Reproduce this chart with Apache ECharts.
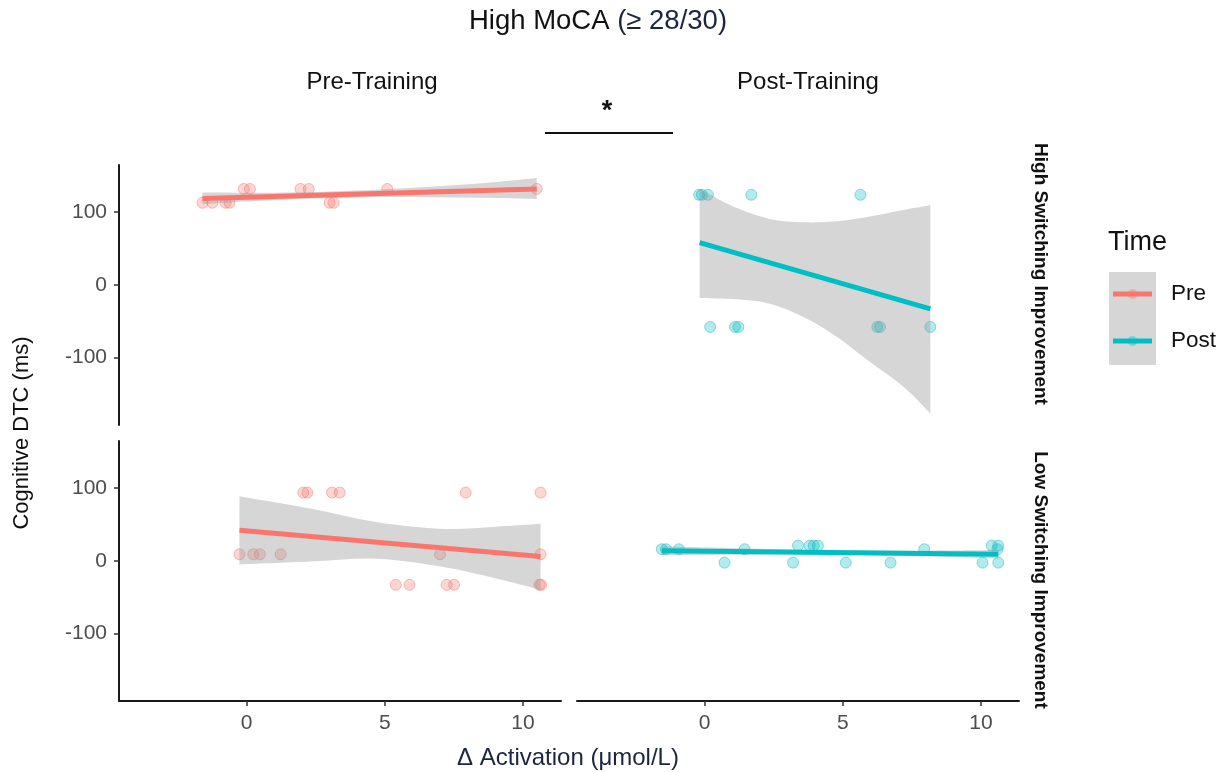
<!DOCTYPE html>
<html>
<head>
<meta charset="utf-8">
<script src="https://cdn.jsdelivr.net/npm/echarts@6/dist/echarts.min.js"></script>
<style>
  html, body { margin: 0; padding: 0; background: #ffffff; }
  #chart { width: 1230px; height: 772px; }
</style>
</head>
<body>
<div id="chart"></div>
<script>
// ---- labels and ticks ----
const facetCols = ['Pre-Training', 'Post-Training'];
const facetRows = ['High Switching Improvement', 'Low Switching Improvement'];
const timeLevels = ['Pre', 'Post'];
const xTicks = [0, 5, 10];
const yTicks = [-100, 0, 100];
const xRange = [-4.62, 11.38];
const yRange = [-193, 165];

// ---- Pre-Training, High Switching Improvement ----
const preHighX = [-1.6, -1.24, -0.76, -0.62, -0.1, 0.12, 1.95, 2.25, 3.0, 3.15, 5.09, 10.5];
const preHighY = [113, 113, 113, 113, 132, 132, 132, 132, 113, 113, 132, 132];
const preHighFitX = [-1.6, 10.5];
const preHighFitY = [119, 132];
const preHighBandX = [-1.6, 0.5, 2.5, 4.5, 6.5, 8.5, 10.5];
const preHighBandLo = [111, 115.8, 118.9, 120.6, 120.7, 119.8, 118];
const preHighBandHi = [127, 126.8, 127.9, 130.6, 134.7, 139.8, 147];

// ---- Post-Training, High Switching Improvement ----
const postHighX = [-0.2, -0.1, 0.12, 1.69, 5.64, 0.2, 1.1, 1.22, 6.25, 6.35, 8.17];
const postHighY = [124, 124, 124, 124, 124, -58, -58, -58, -58, -58, -58];
const postHighFitX = [-0.18, 8.17];
const postHighFitY = [58, -33];
const postHighBandX = [-0.18, 1.15, 2.36, 3.56, 4.77, 5.98, 7.19, 8.17];
const postHighBandLo = [-18, -20, -26, -44, -71, -106, -140, -177];
const postHighBandHi = [132, 106, 90.6, 86, 87.4, 94, 103, 110];

// ---- Pre-Training, Low Switching Improvement ----
const preLowX = [2.05, 2.2, 3.09, 3.37, 7.93, 10.64, -0.26, 0.24, 0.48, 1.23, 7.0, 10.64, 5.4, 5.9, 7.24, 7.51, 10.6, 10.66];
const preLowY = [94, 94, 94, 94, 94, 94, 9, 9, 9, 9, 9, 9, -33, -33, -33, -33, -33, -33];
const preLowFitX = [-0.26, 10.64];
const preLowFitY = [42, 6];
const preLowBandX = [-0.26, 2.31, 4.72, 7.12, 9.0, 10.64];
const preLowBandLo = [-5, -1, 3, -8.5, -24, -40];
const preLowBandHi = [89, 72, 53, 44, 47, 51];

// ---- Post-Training, Low Switching Improvement ----
const postLowX = [-1.55, -1.4, -0.93, 1.45, 7.95, 10.6, 3.38, 3.8, 3.95, 4.1, 10.39, 10.63, 0.72, 3.2, 5.11, 6.73, 10.06, 10.63];
const postLowY = [16, 16, 16, 16, 16, 16, 21, 21, 21, 21, 21, 21, -2.5, -2.5, -2.5, -2.5, -2.5, -2.5];
const postLowFitX = [-1.55, 10.63];
const postLowFitY = [14, 9];
const postLowBandX = [-1.55, 1.5, 4.5, 7.5, 10.63];
const postLowBandLo = [8, 8.5, 8.5, 6.5, 3];
const postLowBandHi = [20, 17, 14.5, 14, 15];

// ---- styling ----
const FONT = '"Liberation Sans", Arial, Helvetica, sans-serif';
const timeColors = { Pre: '#F8766D', Post: '#00BFC4' };
const pointFill = { Pre: 'rgba(248,118,109,0.38)', Post: 'rgba(0,191,196,0.38)' };
const pointEdge = { Pre: 'rgba(240,100,95,0.5)', Post: 'rgba(0,170,180,0.5)' };
const bandFill = 'rgba(153,153,153,0.4)';

// panel layout: row-major, [row][col]
const grids = [
  { left: 119, top: 165, width: 442, height: 260 },
  { left: 577, top: 165, width: 442, height: 260 },
  { left: 119, top: 441, width: 442, height: 260 },
  { left: 577, top: 441, width: 442, height: 260 }
];

const panels = [
  { time: 'Pre',  xs: preHighX,  ys: preHighY,  fitX: preHighFitX,  fitY: preHighFitY,  bx: preHighBandX,  lo: preHighBandLo,  hi: preHighBandHi },
  { time: 'Post', xs: postHighX, ys: postHighY, fitX: postHighFitX, fitY: postHighFitY, bx: postHighBandX, lo: postHighBandLo, hi: postHighBandHi },
  { time: 'Pre',  xs: preLowX,   ys: preLowY,   fitX: preLowFitX,   fitY: preLowFitY,   bx: preLowBandX,   lo: preLowBandLo,   hi: preLowBandHi },
  { time: 'Post', xs: postLowX,  ys: postLowY,  fitX: postLowFitX,  fitY: postLowFitY,  bx: postLowBandX,  lo: postLowBandLo,  hi: postLowBandHi }
];

// smooth cubic segments through pixel points (Catmull-Rom)
function smoothSegments(pts) {
  let d = '';
  for (let i = 0; i < pts.length - 1; i++) {
    const p0 = pts[i - 1] || pts[i];
    const p1 = pts[i];
    const p2 = pts[i + 1];
    const p3 = pts[i + 2] || p2;
    const c1x = p1[0] + (p2[0] - p0[0]) / 6, c1y = p1[1] + (p2[1] - p0[1]) / 6;
    const c2x = p2[0] - (p3[0] - p1[0]) / 6, c2y = p2[1] - (p3[1] - p1[1]) / 6;
    d += ' C' + c1x + ' ' + c1y + ' ' + c2x + ' ' + c2y + ' ' + p2[0] + ' ' + p2[1];
  }
  return d;
}

function bandRenderer(bx, lo, hi) {
  return function (params, api) {
    const up = bx.map((x, k) => api.coord([x, hi[k]]));
    const dn = bx.map((x, k) => api.coord([x, lo[k]])).reverse();
    const d = 'M' + up[0][0] + ' ' + up[0][1] + smoothSegments(up) +
      ' L' + dn[0][0] + ' ' + dn[0][1] + smoothSegments(dn) + ' Z';
    return { type: 'path', shape: { pathData: d }, style: { fill: bandFill } };
  };
}

const xAxes = grids.map((g, i) => ({
  type: 'value', gridIndex: i, min: xRange[0], max: xRange[1],
  show: i >= 2,
  axisLine: { show: true, onZero: false, lineStyle: { color: '#1a1a1a', width: 2 } },
  axisTick: { show: true, length: 5, customValues: xTicks, lineStyle: { color: '#333333', width: 1.5 } },
  axisLabel: { customValues: xTicks, color: '#4d4d4d', fontSize: 21, fontFamily: FONT, margin: 12 },
  splitLine: { show: false }
}));

const yAxes = grids.map((g, i) => ({
  type: 'value', gridIndex: i, min: yRange[0], max: yRange[1],
  show: i % 2 === 0,
  axisLine: { show: true, onZero: false, lineStyle: { color: '#1a1a1a', width: 2 } },
  axisTick: { show: true, length: 5, customValues: yTicks, lineStyle: { color: '#333333', width: 1.5 } },
  axisLabel: { customValues: yTicks, color: '#4d4d4d', fontSize: 21, fontFamily: FONT, margin: 12 },
  splitLine: { show: false }
}));

const series = [];
panels.forEach((p, i) => {
  series.push({
    type: 'scatter', name: p.time, xAxisIndex: i, yAxisIndex: i, z: 1,
    symbolSize: 11,
    itemStyle: { color: pointFill[p.time], borderColor: pointEdge[p.time], borderWidth: 1 },
    data: p.xs.map((x, k) => [x, p.ys[k]])
  });
  series.push({
    type: 'custom', xAxisIndex: i, yAxisIndex: i, z: 2, silent: true,
    renderItem: bandRenderer(p.bx, p.lo, p.hi),
    data: [[p.bx[0], p.lo[0]]]
  });
  series.push({
    type: 'line', name: p.time, xAxisIndex: i, yAxisIndex: i, z: 3,
    symbol: 'none', silent: true,
    lineStyle: { color: timeColors[p.time], width: 5 },
    data: p.fitX.map((x, k) => [x, p.fitY[k]])
  });
});

// text, facet strips, annotation and legend
const graphic = [
  {
    type: 'text', x: 598, y: 21,
    style: {
      text: '{a|High MoCA }{b|(≥ 28/30)}', align: 'center', verticalAlign: 'middle',
      rich: {
        a: { fontSize: 27.5, fontFamily: FONT, fill: '#111111' },
        b: { fontSize: 27.5, fontFamily: FONT, fill: '#1b2540' }
      }
    }
  },
  { type: 'text', x: 372, y: 82, style: { text: facetCols[0], fontSize: 24, fontFamily: FONT, fill: '#111111', align: 'center', verticalAlign: 'middle' } },
  { type: 'text', x: 808, y: 82, style: { text: facetCols[1], fontSize: 24, fontFamily: FONT, fill: '#111111', align: 'center', verticalAlign: 'middle' } },
  { type: 'text', x: 1040, y: 274, rotation: -Math.PI / 2, style: { text: facetRows[0], fontSize: 19, fontWeight: 'bold', fontFamily: FONT, fill: '#111111', align: 'center', verticalAlign: 'middle' } },
  { type: 'text', x: 1040, y: 580, rotation: -Math.PI / 2, style: { text: facetRows[1], fontSize: 19, fontWeight: 'bold', fontFamily: FONT, fill: '#111111', align: 'center', verticalAlign: 'middle' } },
  { type: 'text', x: 607, y: 112, style: { text: '*', fontSize: 27, fontWeight: 'bold', fontFamily: FONT, fill: '#111111', align: 'center', verticalAlign: 'middle' } },
  { type: 'line', shape: { x1: 545, y1: 133, x2: 673, y2: 133 }, style: { stroke: '#111111', lineWidth: 2 } },
  { type: 'text', x: 22, y: 433, rotation: Math.PI / 2, style: { text: 'Cognitive DTC (ms)', fontSize: 22, fontFamily: FONT, fill: '#111111', align: 'center', verticalAlign: 'middle' } },
  { type: 'text', x: 568, y: 758, style: { text: 'Δ Activation (μmol/L)', fontSize: 24, fontFamily: FONT, fill: '#1b2540', align: 'center', verticalAlign: 'middle' } },
  { type: 'text', x: 1108, y: 243, style: { text: 'Time', fontSize: 27, fontFamily: FONT, fill: '#111111', align: 'left', verticalAlign: 'middle' } },
  { type: 'rect', shape: { x: 1109, y: 272, width: 47, height: 93 }, style: { fill: '#d6d6d6' } }
];
timeLevels.forEach((t, k) => {
  const cy = 294 + k * 47;
  graphic.push({ type: 'line', shape: { x1: 1113, y1: cy, x2: 1152, y2: cy }, style: { stroke: timeColors[t], lineWidth: 5 } });
  graphic.push({ type: 'circle', shape: { cx: 1132.5, cy: cy, r: 5 }, style: { fill: pointFill[t] } });
  graphic.push({ type: 'text', x: 1171, y: cy, style: { text: t, fontSize: 22.5, fontFamily: FONT, fill: '#111111', align: 'left', verticalAlign: 'middle' } });
});

const chart = echarts.init(document.getElementById('chart'), null, { renderer: 'canvas' });
chart.setOption({
  backgroundColor: '#ffffff',
  animation: false,
  grid: grids,
  xAxis: xAxes,
  yAxis: yAxes,
  series: series,
  graphic: graphic
});
</script>
</body>
</html>
